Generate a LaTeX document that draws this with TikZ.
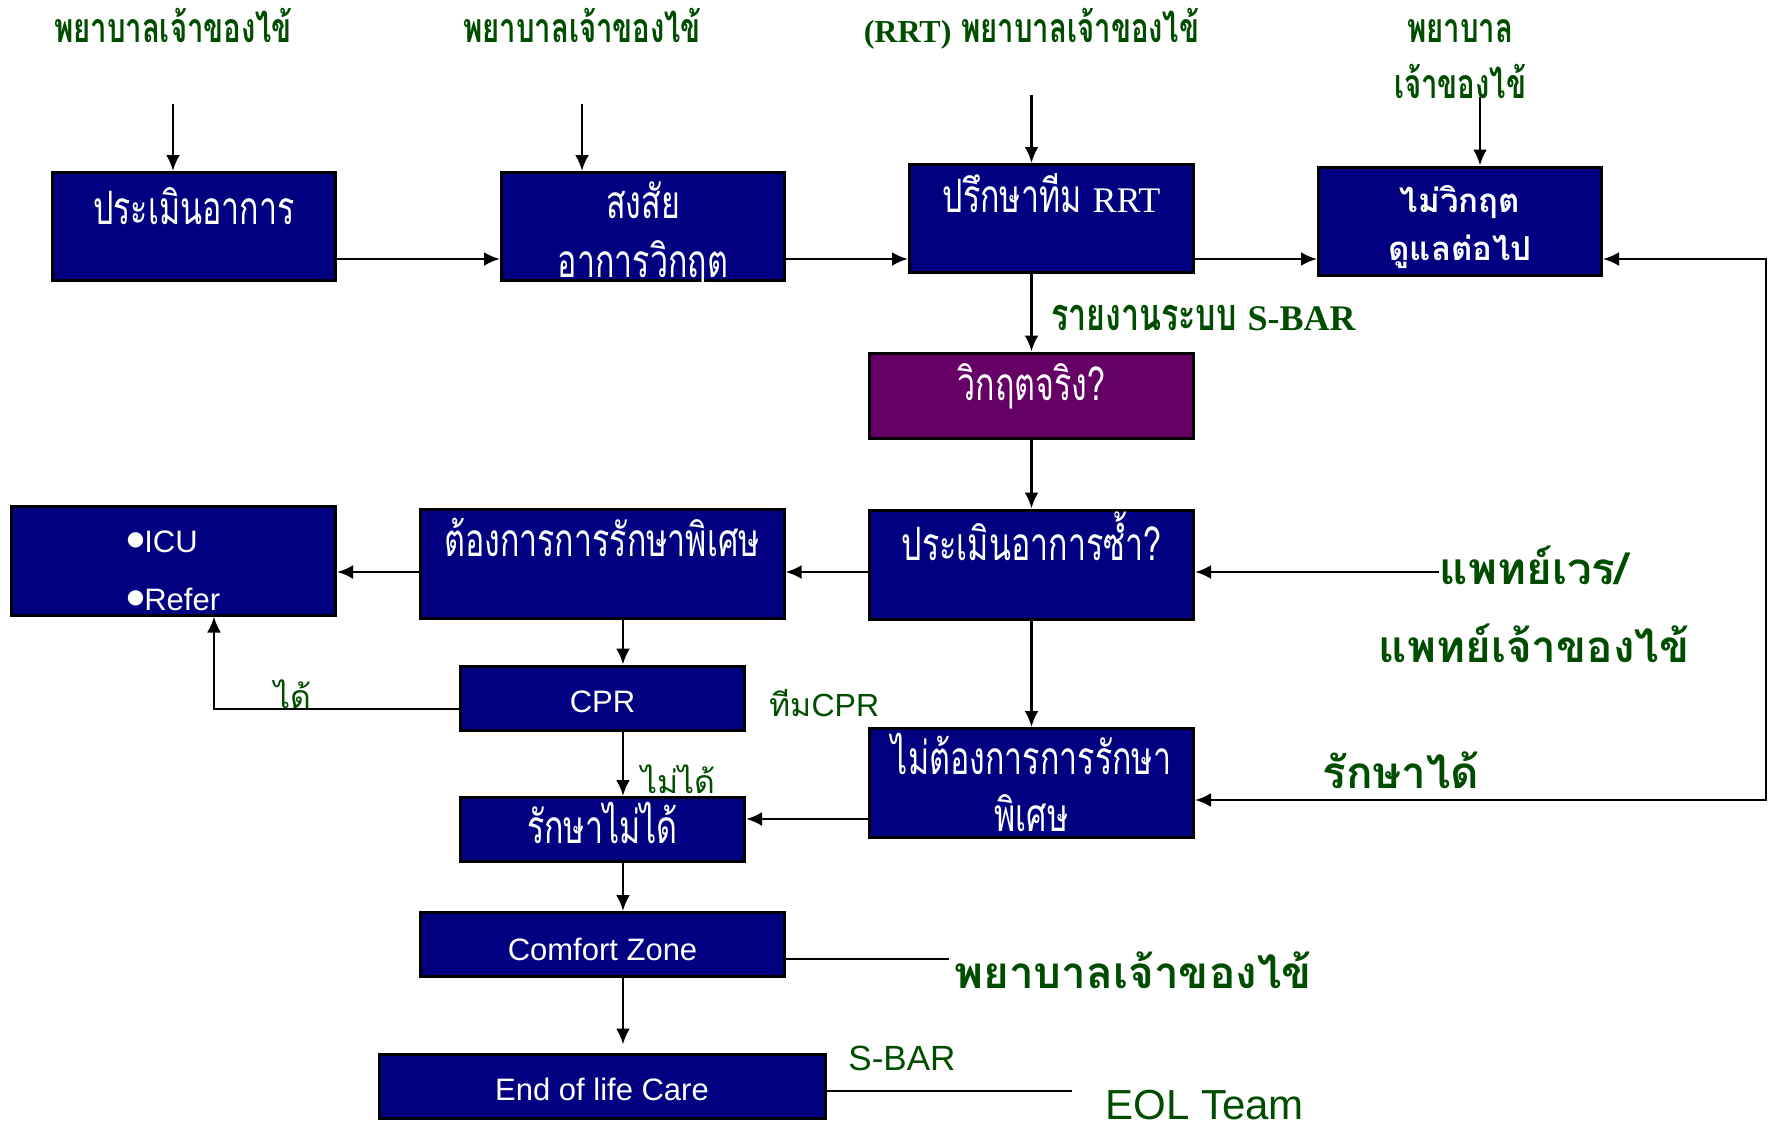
\documentclass[tikz,border=0pt]{standalone}
\usepackage{fontspec}
\setmainfont{Liberation Sans}
\newfontfamily\thaibox[Script=Thai,FakeStretch=0.7]{Loma}
\newfontfamily\thaihead[Script=Thai,FakeStretch=0.715]{Loma}
\newfontfamily\thaiside[Script=Thai]{Loma}
\newfontfamily\romanfont{Liberation Serif}
\newfontfamily\dotfont{DejaVu Sans}
\usetikzlibrary{positioning,arrows.meta}

\definecolor{boxblue}{RGB}{0,0,128}
\definecolor{boxpurple}{RGB}{102,0,102}
\definecolor{labgreen}{RGB}{0,77,0}

\newcommand\bul{\raisebox{7pt}{\dotfont\fontsize{20}{20}\selectfont ●}}

\tikzset{
  box/.style={rectangle,draw=black,line width=3pt,fill=boxblue,text=white,inner sep=0pt,
    minimum width=283pt,minimum height=108pt,align=center,text height=40pt,
    font=\thaibox\fontsize{46}{59}\selectfont},
  headlbl/.style={anchor=base,text=labgreen,inner sep=0pt,align=center,
    font=\thaihead\bfseries\fontsize{41}{56}\selectfont},
  sidelbl/.style={anchor=base,text=labgreen,inner sep=0pt,align=center,
    font=\thaiside\bfseries\fontsize{44}{78}\selectfont},
  smalllbl/.style={anchor=base west,text=labgreen,inner sep=0pt,
    font=\thaiside\fontsize{32}{38}\selectfont},
  latinlbl/.style={anchor=base west,text=labgreen,inner sep=0pt,
    font=\fontsize{35}{40}\selectfont}
}

\begin{document}
\begin{tikzpicture}[x=1pt,y={(0pt,-1pt)},line width=2.8pt,>={Latex[length=16pt,width=14pt]}]
\useasboundingbox (0,0) rectangle (1774,1125);

% top row
\node[box,text depth=45pt] (assess) at (194,226.5) {ประเมินอาการ};
\node[box,text height=103pt,text depth=2pt] (suspect) at (643,226.5) {สงสัย\\อาการวิกฤต};
\node[box,minimum width=284pt,text depth=53pt] (consult) at (1051.5,218.5) {ปรึกษาทีม {\romanfont\fontsize{36}{40}\selectfont RRT}};
\node[box,text height=88pt,text depth=10pt,font=\thaiside\bfseries\fontsize{33}{48}\selectfont] (stable) at (1460,221) {ไม่วิกฤต\\ดูแลต่อไป};

% middle
\node[box,fill=boxpurple,minimum width=324pt,minimum height=85pt,text depth=31pt] (crisis) at (1031.5,395.5) {วิกฤตจริง?};
\node[box,minimum width=324pt,minimum height=109pt,text depth=49pt] (reassess) at (1031.5,564.5) {ประเมินอาการซ้ำ?};
\node[box,minimum width=364pt,minimum height=109pt,text depth=56pt] (special) at (602,564) {ต้องการการรักษาพิเศษ};
\node[box,minimum width=324pt,minimum height=109pt,text height=103pt,text depth=4pt,align=left,
  font=\fontsize{31}{58}\selectfont] (icu) at (173.5,560.5) {\bul ICU\\\bul Refer};
\node[box,minimum width=284pt,minimum height=64pt,text depth=12pt,font=\fontsize{31}{40}\selectfont] (cpr) at (602.5,698) {CPR};
\node[box,minimum width=324pt,minimum height=109pt,text height=101pt,text depth=5pt,
  font=\thaibox\fontsize{46}{57}\selectfont] (nospecial) at (1031.5,783) {ไม่ต้องการการรักษา\\พิเศษ};
\node[box,minimum width=284pt,minimum height=64pt,text depth=13pt] (untreat) at (602.5,829.5) {รักษาไม่ได้};

% bottom
\node[box,minimum width=364pt,minimum height=64pt,text depth=9pt,font=\fontsize{31}{40}\selectfont] (comfort) at (602.5,944.5) {Comfort Zone};
\node[box,minimum width=446pt,minimum height=64pt,text depth=12pt,font=\fontsize{31}{40}\selectfont] (eol) at (602,1086) {End of life Care};

% labels
\node[headlbl] (nurse1) at (173,42) {พยาบาลเจ้าของไข้};
\node[headlbl] (nurse2) at (582,42) {พยาบาลเจ้าของไข้};
\node[headlbl] (nurse3) at (1031.5,42) {{\romanfont\fontsize{32}{40}\selectfont (RRT)} พยาบาลเจ้าของไข้};
\node[headlbl] (nurse4) at (1460,98) {พยาบาล\\เจ้าของไข้};
\node[headlbl,anchor=base west,font=\thaihead\bfseries\fontsize{45}{56}\selectfont] (report) at (1050,330) {รายงานระบบ {\romanfont\fontsize{36}{40}\selectfont S-BAR}};
\node[sidelbl] (doctor) at (1534,662) {แพทย์เวร/\\แพทย์เจ้าของไข้};
\node[sidelbl,anchor=base west] (treatok) at (1321,788) {รักษาได้};
\node[sidelbl,anchor=base west] (nurse5) at (953,988) {พยาบาลเจ้าของไข้};
\node[smalllbl] (yes) at (273,708) {ได้};
\node[smalllbl] (no) at (640,793) {ไม่ได้};
\node[smalllbl] (cprteam) at (768,716) {ทีม{\normalfont CPR}};
\node[latinlbl] (sbar) at (847,1070) {S-BAR};
\node[latinlbl,font=\fontsize{42}{50}\selectfont] (eolteam) at (1104,1119) {EOL Team};

% free ends and turning points
\coordinate (row1) at (0,259);
\coordinate (row3) at (0,572);
\coordinate (row4) at (0,819);
\coordinate (colA) at (623,0);
\coordinate (in1) at (173,104);
\coordinate (in2) at (582,104);
\coordinate (in3) at (1031.5,95);
\coordinate (in4) at (1480,97);
\coordinate (rloop) at (1766,800);
\coordinate (docline) at (1439,572);
\coordinate (yesturn) at (214,709);
\coordinate (nurseend) at (949,959);
\coordinate (eolend) at (1072,1091);

% connectors
\draw[->] (in1) -- (assess.north -| in1);
\draw[->] (in2) -- (suspect.north -| in2);
\draw[->] (in3) -- (consult.north -| in3);
\draw[->] (in4) -- (stable.north -| in4);
\draw[->] (assess.east |- row1) -- (suspect.west |- row1);
\draw[->] (suspect.east |- row1) -- (consult.west |- row1);
\draw[->] (consult.east |- row1) -- (stable.west |- row1);
\draw[<->] (stable.east |- row1) -| (rloop) -- (nospecial.east |- rloop);
\draw[->] (consult.south -| crisis) -- (crisis.north);
\draw[->] (crisis.south) -- (reassess.north);
\draw[->] (docline) -- (reassess.east |- docline);
\draw[->] (reassess.west |- row3) -- (special.east |- row3);
\draw[->] (special.west |- row3) -- (icu.east |- row3);
\draw[->] (special.south -| colA) -- (cpr.north -| colA);
\draw[->] (cpr.west |- yesturn) -- (yesturn) -- (icu.south -| yesturn);
\draw[->] (cpr.south -| colA) -- (untreat.north -| colA);
\draw[->] (reassess.south) -- (nospecial.north);
\draw[->] (nospecial.west |- row4) -- (untreat.east |- row4);
\draw[->] (untreat.south -| colA) -- (comfort.north -| colA);
\draw[->,shorten >=8pt] (comfort.south -| colA) -- (eol.north -| colA);
\draw (comfort.east |- nurseend) -- (nurseend);
\draw (eol.east |- eolend) -- (eolend);
\end{tikzpicture}
\end{document}
